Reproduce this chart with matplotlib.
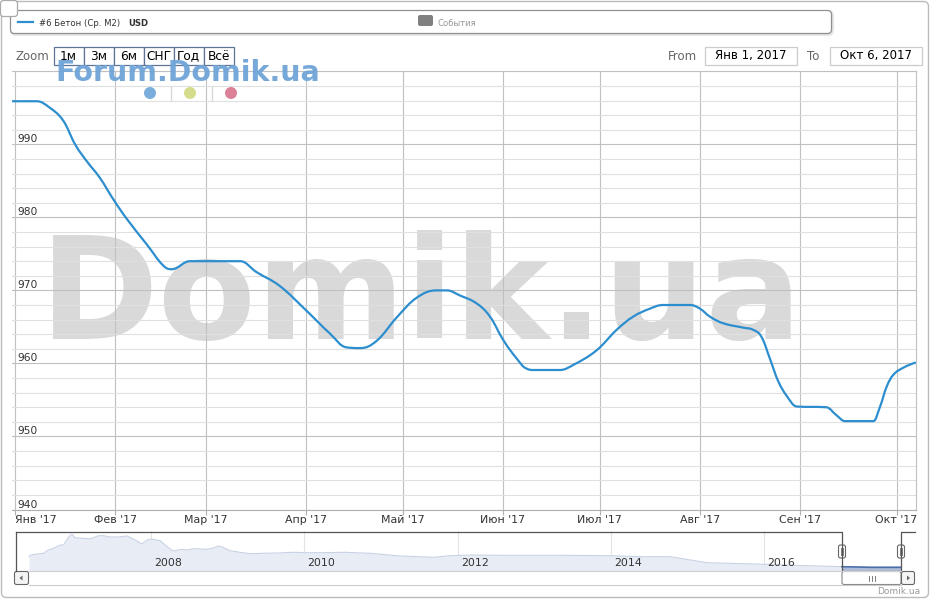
import numpy as np
import matplotlib.pyplot as plt
from matplotlib.patches import FancyBboxPatch, Rectangle, Circle, Polygon, PathPatch
from matplotlib.path import Path
from matplotlib.lines import Line2D
from matplotlib.ticker import MultipleLocator

# days since 1 Jan 2017 -> price (USD / m2)
days = [-1, 6.7, 10.8, 15, 18.6, 22.2, 26.3, 30.4, 34.6, 40.8, 45.9, 48.5, 54.2,
        69.7, 74.8, 82, 90.3, 97.5, 102.7, 106.8, 112, 118.2, 124.4, 130.6, 133.7,
        137.8, 143, 147.1, 151.2, 155.3, 158.4, 160.5, 168.7, 172.9, 180.1, 186.3,
        191.4, 196.6, 200.7, 209, 212.1, 215.2, 219.3, 225.5, 228.6, 231.2, 233.8,
        236.3, 238.9, 242, 251.3, 254.4, 257, 265.8, 267.8, 269.9, 271.9, 275, 278.7]
price = [995.9, 995.9, 995.0, 993.2, 990.0, 987.7, 985.4, 982.5, 979.8, 976.3, 973.4,
         972.9, 974.0, 974.0, 972.5, 970.6, 967.2, 964.1, 962.2, 962.1, 963.1, 966.3,
         969.0, 970.0, 970.0, 969.3, 968.2, 966.4, 963.2, 960.7, 959.3, 959.1, 959.1,
         959.8, 961.8, 964.6, 966.4, 967.5, 968.0, 968.0, 967.5, 966.4, 965.5, 964.9,
         964.6, 963.6, 960.6, 957.6, 955.6, 954.1, 954.0, 952.9, 952.1, 952.1, 954.0,
         956.8, 958.4, 959.4, 960.1]

month_days = [0, 31, 59, 90, 120, 151, 181, 212, 243, 273]
month_labels = ["Янв '17", "Фев '17", "Мар '17", "Апр '17", "Май '17",
                "Июн '17", "Июл '17", "Авг '17", "Сен '17", "Окт '17"]

# navigator: full history
nav_years = [2006.41, 2006.43, 2006.49, 2006.60, 2006.66, 2006.73, 2006.77, 2006.82,
             2006.86, 2006.90, 2006.95, 2006.97, 2007.01, 2007.10, 2007.21, 2007.32,
             2007.38, 2007.47, 2007.56, 2007.69, 2007.75, 2007.82, 2007.88, 2007.95,
             2008.01, 2008.12, 2008.21, 2008.29, 2008.36, 2008.40, 2008.47, 2008.56,
             2008.64, 2008.73, 2008.80, 2008.88, 2008.95, 2009.03, 2009.16, 2009.30,
             2009.47, 2009.64, 2009.86, 2010.03, 2010.21, 2010.53, 2010.86, 2011.25,
             2011.68, 2011.90, 2012.17, 2012.56, 2013.34, 2013.99, 2014.38, 2014.77,
             2014.90, 2015.25, 2015.86, 2016.56, 2017.01, 2017.38, 2017.78]
nav_price = [1490, 1575, 1610, 1660, 1825, 1910, 1990, 2075, 2075, 2325, 2575, 2610,
             2440, 2410, 2390, 2540, 2540, 2475, 2475, 2525, 2410, 2275, 2125, 2325,
             2375, 2290, 1990, 1775, 1825, 1860, 1825, 1890, 1875, 1860, 1910, 2025,
             1940, 1790, 1710, 1640, 1660, 1675, 1710, 1690, 1690, 1710, 1660, 1525,
             1460, 1540, 1575, 1560, 1560, 1540, 1490, 1490, 1410, 1190, 1125, 1040,
             990, 960, 960]
nav_year_ticks = [2008, 2010, 2012, 2014, 2016]

zoom_buttons = ['1м', '3м', '6м', 'СНГ', 'Год', 'Всё']

W, H = 931, 600
LINE = '#2d8ecf'


def fr(x0, y0, x1, y1):
    # pixel box (top-left origin) -> figure fraction rect
    return [x0 / W, 1 - y1 / H, (x1 - x0) / W, (y1 - y0) / H]


def spline_path(xs, ys, smooth=1.5):
    # highcharts-like spline: bezier through every point
    n = len(xs)
    lc, rc = [None] * n, [None] * n
    for i in range(n):
        x, y = xs[i], ys[i]
        if 0 < i < n - 1:
            d = smooth + 1
            lx = (smooth * x + xs[i - 1]) / d
            ly = (smooth * y + ys[i - 1]) / d
            rx = (smooth * x + xs[i + 1]) / d
            ry = (smooth * y + ys[i + 1]) / d
            if rx != lx:
                corr = (ry - ly) * (rx - x) / (rx - lx) + y - ry
                ly += corr
                ry += corr
            if ly > max(ys[i - 1], y):
                ly = max(ys[i - 1], y); ry = 2 * y - ly
            elif ly < min(ys[i - 1], y):
                ly = min(ys[i - 1], y); ry = 2 * y - ly
            if ry > max(ys[i + 1], y):
                ry = max(ys[i + 1], y); ly = 2 * y - ry
            elif ry < min(ys[i + 1], y):
                ry = min(ys[i + 1], y); ly = 2 * y - ry
            lc[i], rc[i] = (lx, ly), (rx, ry)
        else:
            lc[i] = rc[i] = (x, y)
    verts = [(xs[0], ys[0])]
    codes = [Path.MOVETO]
    for i in range(1, n):
        verts += [rc[i - 1], lc[i], (xs[i], ys[i])]
        codes += [Path.CURVE4] * 3
    return Path(verts, codes)


fig = plt.figure(figsize=(W / 100, H / 100), dpi=100)
fig.patch.set_facecolor('white')

# ---- main chart
ax = fig.add_axes(fr(12, 71.3, 916, 509.5))
ax.set_xlim(-0.93, 279.0)
ax.set_ylim(940, 1000)
ax.add_patch(PathPatch(spline_path(days, price), fc='none', ec=LINE, lw=1.6,
                       zorder=3, joinstyle='round', capstyle='round'))

ax.set_xticks(month_days)
ax.set_xticklabels(month_labels)
ax.yaxis.set_minor_locator(MultipleLocator(2))
ax.set_yticks([940, 950, 960, 970, 980, 990])
ax.grid(axis='x', color='#c0c0c0', lw=0.8)
ax.grid(axis='y', which='major', color='#c0c0c0', lw=0.8)
ax.grid(axis='y', which='minor', color='#e0e0e0', lw=0.8)
ax.tick_params(axis='x', length=3.6, width=0.8, color='#b0b0b0', pad=0.5,
               labelsize=7.9, labelcolor='#333333')
ax.tick_params(axis='y', which='both', length=0, pad=-3.6,
               labelsize=7.7, labelcolor='#333333')
plt.setp(ax.get_yticklabels(), ha='left', va='bottom')
ax.get_xticklabels()[0].set_ha('left')
ax.spines['left'].set_visible(False)
for s in ['top', 'right']:
    ax.spines[s].set_color('#c0c0c0')
    ax.spines[s].set_linewidth(0.8)
ax.spines['bottom'].set_color('#b0b0b0')
ax.spines['bottom'].set_linewidth(0.8)

# big watermark behind the grid
ax.text(40 / W, 1 - 339 / H, 'Domik.ua', transform=fig.transFigure,
        fontsize=103, fontweight='bold', family='DejaVu Sans',
        color='#d9d9d9', ha='left', va='baseline', zorder=0.5)

# ---- navigator
nav = fig.add_axes(fr(15, 531, 915, 571))
px_yr = 76.66
nav.set_xlim(2006.41 - 14 / px_yr, 2017.78 + 14 / px_yr)
nav.set_ylim(775, 2775)
nav.axis('off')
ny = np.array(nav_years)
npx = np.array(nav_price)
nav.fill_between(ny, npx, 775, color='#e8ecf5', lw=0)
nav.plot(ny, npx, color='#c8d2e5', lw=0.8)
sel = ny >= 2017.0
nav.fill_between(ny[sel], npx[sel], 775, color='#aebbd6', lw=0)
nav.plot(ny[sel], npx[sel], color='#4b6ea8', lw=1.2)
for yr in nav_year_ticks:
    nav.axvline(yr, color='#e4e4e4', lw=0.8, zorder=0.5)
    nav.annotate(str(yr), xy=(yr, 0.2), xycoords=('data', 'axes fraction'),
                 xytext=(3, 0), textcoords='offset pixels',
                 fontsize=7.9, color='#333333', va='center', ha='left')

# ---- overlay for chrome (pixel coords)
ov = fig.add_axes([0, 0, 1, 1], zorder=5)
ov.set_xlim(0, W)
ov.set_ylim(H, 0)
ov.axis('off')
ov.patch.set_alpha(0)


def box(x, y, w, h, r=0, **kw):
    p = FancyBboxPatch((x, y), w, h, boxstyle=f'round,pad=0,rounding_size={r}', **kw)
    ov.add_patch(p)
    return p


box(1.5, 1.5, 927, 596, r=5, fc='none', ec='#bbbbbb', lw=1)

# legend
box(11.5, 11.5, 821, 23, r=4, fc='none', ec='#e4e4e4', lw=2)
box(10.5, 10.5, 821, 23, r=4, fc='white', ec='#909090', lw=0.9)
ov.add_line(Line2D([18, 33], [22, 22], color=LINE, lw=1.6))
ov.text(39, 25.5, '#6 Бетон (Ср. М2)', fontsize=6.1, color='#333333', va='baseline')
ov.text(128, 25.5, 'USD', fontsize=6.1, color='#333333', va='baseline', fontweight='bold')
box(418, 15, 15, 11, r=2, fc='#808080', ec='none')
ov.text(438, 25.5, 'События', fontsize=6.1, color='#999999', va='baseline')
box(0.5, 0.5, 17, 16, r=3, fc='white', ec='#aaaaaa', lw=0.9)

# range selector
ov.text(16, 56, 'Zoom', fontsize=8.5, color='#666666', va='center')
for i, lab in enumerate(zoom_buttons):
    x0 = 53.5 + 30 * i
    ov.add_patch(Rectangle((x0, 46.5), 30, 18, fc='white', ec='#5e7396', lw=0.9))
    ov.text(x0 + 15, 56, lab, fontsize=8.7, color='black', ha='center', va='center')
ov.text(668, 56, 'From', fontsize=8.5, color='#666666', va='center')
ov.add_patch(Rectangle((704.5, 46.5), 92, 18, fc='white', ec='#cccccc', lw=0.9))
ov.text(750.5, 56, 'Янв 1, 2017', fontsize=8.5, color='black', ha='center', va='center')
ov.text(807, 56, 'To', fontsize=8.5, color='#666666', va='center')
ov.add_patch(Rectangle((829.5, 46.5), 92, 18, fc='white', ec='#cccccc', lw=0.9))
ov.text(875.5, 56, 'Окт 6, 2017', fontsize=8.5, color='black', ha='center', va='center')

# forum watermark + dots (drawn over the buttons, as on the site)
ov.text(55, 81, 'Forum.Domik.ua', fontsize=20.5, fontweight='bold',
        family='DejaVu Sans', color='#6fa5d8', alpha=0.95, va='baseline')
for cx, c in [(150, '#7aaddc'), (190, '#d6dc8c'), (231, '#dc8098')]:
    ov.add_patch(Circle((cx, 93), 6, fc=c, ec='none'))
for sx in [170.5, 211.5]:
    ov.add_line(Line2D([sx, sx], [87, 100], color='#d6d6d6', lw=0.9))

# navigator outline, handles, scrollbar
oc = '#555555'
ov.add_line(Line2D([15.5, 842, 842], [531.5, 531.5, 571], color=oc, lw=0.9))
ov.add_line(Line2D([15.5, 15.5], [531.5, 571], color=oc, lw=0.9))
ov.add_line(Line2D([901, 901, 915], [571, 531.5, 531.5], color=oc, lw=0.9))
ov.add_line(Line2D([29, 901], [571, 571], color='#d0d0d0', lw=0.8))
ov.add_line(Line2D([29, 901], [585, 585], color='#cccccc', lw=0.8))
for hx in [842, 901]:
    box(hx - 3.5, 545, 7, 13, r=2, fc='white', ec='#666666', lw=0.8)
    for gx in [hx - 1, hx + 1]:
        ov.add_line(Line2D([gx, gx], [548, 555], color='#666666', lw=0.6))
box(14.5, 571.5, 14, 13, r=2, fc='#f4f4f4', ec='#666666', lw=0.8)
ov.add_patch(Polygon([[19.5, 578], [22.5, 575.5], [22.5, 580.5]], fc='#666666', ec='none'))
box(842, 571.5, 59, 13, r=2, fc='white', ec='#888888', lw=0.8)
for gx in [868.5, 871.5, 874.5]:
    ov.add_line(Line2D([gx, gx], [575.5, 581], color='#666666', lw=0.6))
box(901.5, 571.5, 13, 13, r=2, fc='#f4f4f4', ec='#666666', lw=0.8)
ov.add_patch(Polygon([[910, 578], [907, 575.5], [907, 580.5]], fc='#666666', ec='none'))

ov.text(920, 594, 'Domik.ua', fontsize=6.5, color='#999999', ha='right', va='baseline')

fig.savefig('out.png', dpi=100)
